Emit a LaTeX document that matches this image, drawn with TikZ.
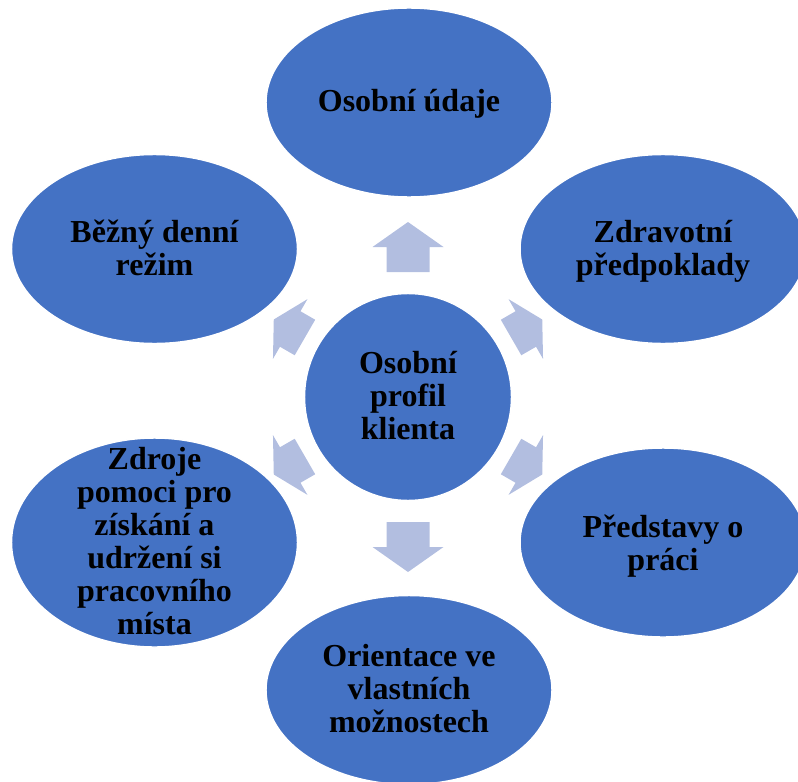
\documentclass[tikz,border=0pt]{standalone}
\usepackage{fontspec}
\setmainfont{Liberation Serif}
\usetikzlibrary{shapes.geometric}
\definecolor{bubblefill}{HTML}{4472C4}
\definecolor{pointerfill}{RGB}{178,190,224}
\begin{document}
\begin{tikzpicture}[x=0.75pt,y=-0.75pt,
  bubble/.style={ellipse, fill=bubblefill, draw=white, line width=1.1pt,
    inner sep=0pt, minimum width=214.5pt, minimum height=141.75pt},
  bubbletext/.style={font=\bfseries\fontsize{24}{24.75}\selectfont,
    align=center, anchor=base, inner sep=0pt},
  pointer/.style={fill=pointerfill, draw=none}]
\useasboundingbox (0,0) rectangle (798,781);
\clip (0,0) rectangle (798,781);

% hub
\node[circle, fill=bubblefill, draw=white, line width=1.1pt, inner sep=0pt,
      minimum size=155.25pt] (c) at (408,397) {};

% block arrows pointing out of the hub
\foreach \ang/\r/\m/\s/\w/\hw in {90/125/150/175/21.5/35.5, 270/125/150/175/21.5/35.5,
    30/119/136/155/20.5/34.5, 150/119/136/155/20.5/34.5,
    210/119/136/155/20.5/34.5, 330/119/136/155/20.5/34.5}{
  \begin{scope}[shift={(c.center)}, rotate=\ang]
    \fill[pointer] (\r,-\w) -- (\m,-\w) -- (\m,-\hw) -- (\s,0) -- (\m,\hw)
      -- (\m,\w) -- (\r,\w) -- cycle;
  \end{scope}
}

% surrounding topics
\node[bubble] (top) at (409,102.5) {};
\node[bubble] (tr)  at (663,249) {};
\node[bubble] (br)  at (663,542.5) {};
\node[bubble] (bot) at (409,690) {};
\node[bubble, minimum height=156.75pt] (bl) at (154.5,542.5) {};
\node[bubble] (tl)  at (154.5,249) {};

% labels (anchored on the baseline of their last line)
\node[bubbletext] (ctext) at (408,439) {Osobní\\profil\\klienta};
\node[bubbletext] (toptext) at (409,112) {Osobní údaje};
\node[bubbletext] (trtext) at (663,275) {Zdravotní\\předpoklady};
\node[bubbletext] (brtext) at (663,570) {Představy o\\práci};
\node[bubbletext] (bottext) at (409,732) {Orientace ve\\vlastních\\možnostech};
\node[bubbletext] (bltext) at (154.5,634) {Zdroje\\pomoci pro\\získání a\\udržení si\\pracovního\\místa};
\node[bubbletext] (tltext) at (154.5,275) {Běžný denní\\režim};
\end{tikzpicture}
\end{document}
